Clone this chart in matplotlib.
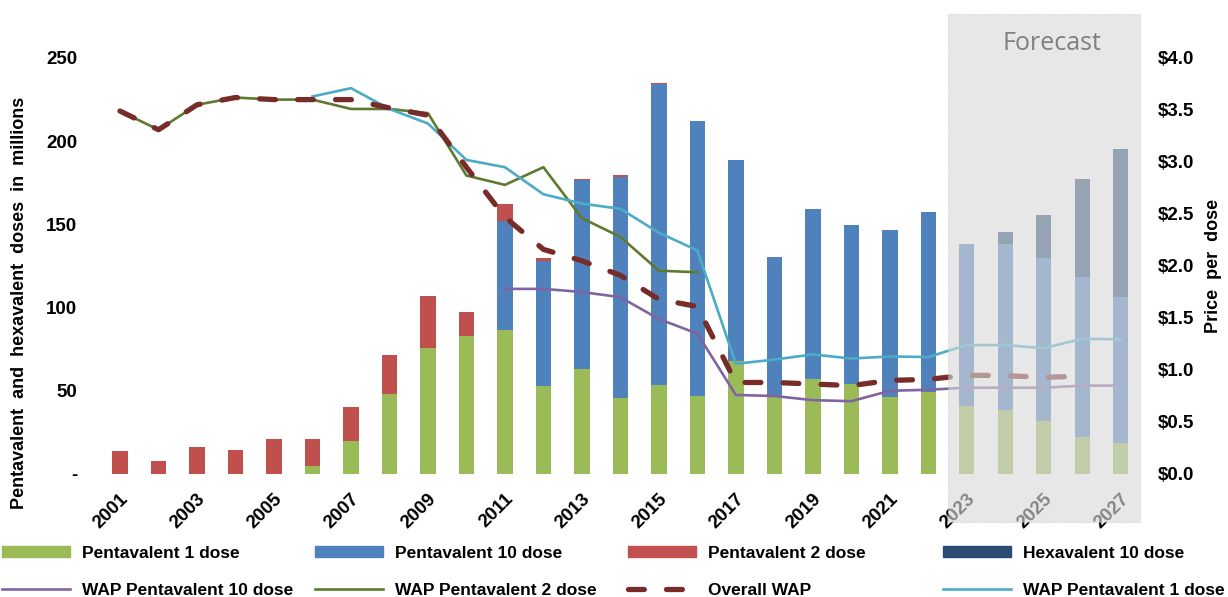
import numpy as np
import matplotlib.pyplot as plt
from matplotlib.patches import Rectangle, Patch
from matplotlib.lines import Line2D
from matplotlib.ticker import FuncFormatter
import matplotlib.transforms as mtransforms

plt.rcParams['font.family'] = ['Liberation Sans', 'DejaVu Sans']
plt.rcParams['font.weight'] = 'bold'

nan = np.nan
years = np.arange(2001, 2028)

# doses in millions
penta1 = [0, 0, 0, 0, 0, 5, 20, 48, 76, 83, 86.5, 53, 63, 45.5, 53.5, 47, 68, 46,
          57, 54, 46.5, 49.5, 41, 38.5, 32, 22, 18.6]
penta10 = [0, 0, 0, 0, 0, 0, 0, 0, 0, 0, 65.7, 75, 113.5, 133, 181, 165, 120.7, 84.4,
           102.3, 95.6, 100.1, 108, 97, 99.7, 98, 96.4, 88]
penta2 = [14, 8, 16, 14.5, 21, 16, 20, 23.7, 31, 14.4, 9.8, 1.8, 1, 1, 0.5, 0.3, 0, 0,
          0, 0, 0, 0, 0, 0, 0, 0, 0]
hexa10 = [0] * 23 + [7.2, 25.6, 58.7, 88.7]

# weighted average price per dose (USD)
wap_overall = [3.49, 3.31, 3.55, 3.62, 3.60, 3.60, 3.60, 3.52, 3.45, 2.95, 2.47, 2.16,
               2.05, 1.91, 1.68, 1.61, 0.88, 0.88, 0.865, 0.85, 0.90, 0.91, 0.95, 0.945,
               0.93, 0.94, nan]
wap_penta2 = [3.49, 3.31, 3.55, 3.62, 3.60, 3.60, 3.51, 3.51, 3.47, 2.87, 2.78, 2.95,
              2.46, 2.28, 1.955, 1.94] + [nan] * 11
wap_penta1 = [nan] * 5 + [3.63, 3.71, 3.51, 3.37, 3.02, 2.95, 2.69, 2.60, 2.55, 2.32,
                          2.15, 1.06, 1.10, 1.15, 1.11, 1.13, 1.125, 1.24, 1.24, 1.21,
                          1.30, 1.295]
wap_penta10 = [nan] * 10 + [1.78, 1.78, 1.75, 1.70, 1.49, 1.35, 0.76, 0.75, 0.71, 0.70,
                            0.80, 0.81, 0.83, 0.83, 0.83, 0.85, 0.85]

c_p1 = '#9bbb59'
c_p10 = '#4f81bd'
c_p2 = '#c0504d'
c_hex = '#2c4d75'
c_w10 = '#8064a2'
c_w2 = '#5f7a2e'
c_wall = '#772c2a'
c_w1 = '#4bacc6'

W, H = 1228, 597
fig = plt.figure(figsize=(W / 100, H / 100), dpi=100)
ax = fig.add_axes([100.75 / W, (H - 474) / H, (1140 - 100.75) / W, (474 - 58) / H])
ax2 = ax.twinx()

p1 = np.array(penta1)
p10 = np.array(penta10)
p2 = np.array(penta2)
bw = 0.4
ax.bar(years, p1, bw, color=c_p1)
ax.bar(years, p10, bw, bottom=p1, color=c_p10)
ax.bar(years, p2, bw, bottom=p1 + p10, color=c_p2)
ax.bar(years, hexa10, bw, bottom=p1 + p10 + p2, color=c_hex)

ax.set_xlim(2000.5, 2027.5)
ax.set_ylim(0, 250)
ax.set_yticks(range(0, 251, 50))
ax.yaxis.set_major_formatter(FuncFormatter(lambda v, p: '-' if v == 0 else f'{v:.0f}'))
ax.set_xticks(years[::2])
ax.set_xticklabels([str(y) for y in years[::2]], rotation=45, ha='right', va='top',
                   rotation_mode='anchor')

lw = 1.9
ax2.plot(years, wap_penta10, color=c_w10, lw=lw)
ax2.plot(years, wap_penta2, color=c_w2, lw=lw)
ax2.plot(years, wap_penta1, color=c_w1, lw=lw)
ax2.plot(years, wap_overall, color=c_wall, lw=3.8, dashes=(3, 4.2),
         dash_capstyle='round')
ax2.set_ylim(0, 4.0)
ax2.set_yticks(np.arange(0, 4.01, 0.5))
ax2.yaxis.set_major_formatter(FuncFormatter(lambda v, p: f'${v:.1f}'))

for a in (ax, ax2):
    for s in a.spines.values():
        s.set_visible(False)
    a.tick_params(length=0, labelsize=13.5)
ax.tick_params(axis='y', pad=17)
ax.tick_params(axis='x', pad=12)
ax2.tick_params(axis='y', pad=13)

fig.text(20 / W, 1 - 303 / H, 'Pentavalent  and  hexavalent  doses  in  millions',
         rotation=90, ha='center', va='center', fontsize=13)
fig.text(1213 / W, 1 - 266 / H, 'Price  per  dose', rotation=90, ha='center',
         va='center', fontsize=13)

# forecast overlay
trans = mtransforms.blended_transform_factory(ax.transData, fig.transFigure)
fig.add_artist(Rectangle((2022.5, (H - 522) / H), 5, (522 - 14) / H, transform=trans,
                         facecolor='#d9d9d9', alpha=0.62, edgecolor='#b8c2d2',
                         linestyle=(0, (1, 1)), lw=0.8, zorder=10))
fig.text(2025.2, 1 - 43 / H, 'Forecast', transform=trans, ha='center', va='center',
         fontsize=18, color='#7f7f7f', fontweight='normal',
         family=['Open Sans', 'DejaVu Sans'], zorder=11)

# legend, four columns of two rows
cols = [
    (Patch(color=c_p1), 'Pentavalent 1 dose', Line2D([], [], color=c_w10, lw=lw), 'WAP Pentavalent 10 dose'),
    (Patch(color=c_p10), 'Pentavalent 10 dose', Line2D([], [], color=c_w2, lw=lw), 'WAP Pentavalent 2 dose'),
    (Patch(color=c_p2), 'Pentavalent 2 dose',
     Line2D([], [], color=c_wall, lw=3.8, dashes=(3, 4.2), dash_capstyle='round'), 'Overall WAP'),
    (Patch(color=c_hex), 'Hexavalent 10 dose', Line2D([], [], color=c_w1, lw=lw), 'WAP Pentavalent 1 dose'),
]
x_starts = [2, 315, 628, 943]
for (h1, l1, h2, l2), xs in zip(cols, x_starts):
    fig.legend([h1, h2], [l1, l2], loc='upper left', bbox_to_anchor=(xs / W, 1 - 546 / H),
               frameon=False, fontsize=12.5, handlelength=3.9, handleheight=0.6,
               handletextpad=0.68, labelspacing=1.28, borderpad=0, borderaxespad=0)

fig.savefig('out.png', dpi=100)
